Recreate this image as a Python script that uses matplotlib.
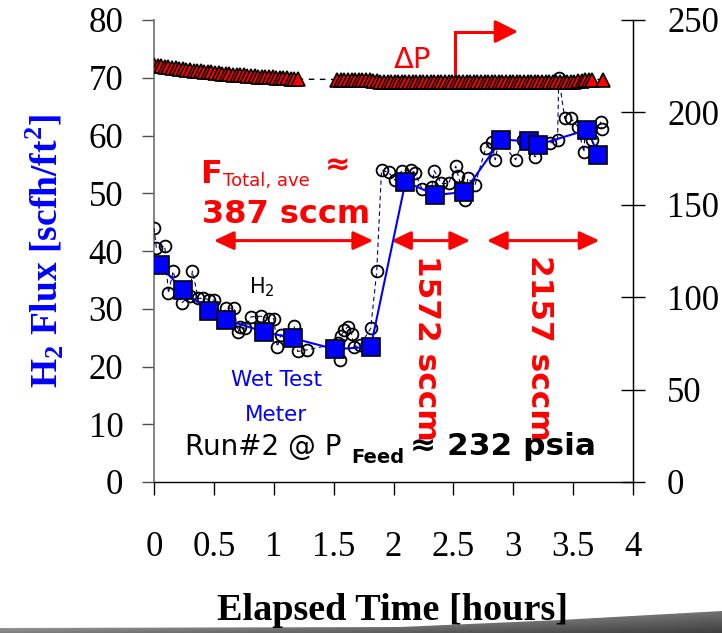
import numpy as np
import matplotlib.pyplot as plt
from matplotlib.patches import Polygon

plt.rcParams['mathtext.fontset'] = 'custom'
plt.rcParams['mathtext.rm'] = 'Liberation Serif'
plt.rcParams['mathtext.bf'] = 'Liberation Serif:bold'
plt.rcParams['mathtext.sf'] = 'DejaVu Sans'

# wet test meter readings (open circles)
wtm_t = [0.00, 0.02, 0.09, 0.12, 0.16, 0.23, 0.30, 0.32, 0.37, 0.41, 0.46, 0.50,
         0.57, 0.60, 0.67, 0.70, 0.72, 0.76, 0.81, 0.89, 0.96, 1.00, 1.03, 1.06,
         1.13, 1.17, 1.20, 1.28, 1.54, 1.55, 1.56, 1.59, 1.62, 1.65, 1.67, 1.72,
         1.81, 1.86, 1.90, 1.96, 2.01, 2.07, 2.15, 2.18, 2.24, 2.32, 2.34, 2.40,
         2.46, 2.52, 2.54, 2.60, 2.62, 2.68, 2.77, 2.82, 2.85, 2.88, 3.02, 3.08,
         3.13, 3.18, 3.31, 3.37, 3.38, 3.43, 3.48, 3.54, 3.59, 3.60, 3.66, 3.73,
         3.74]
wtm_flux = [44.0, 40.5, 40.9, 32.7, 36.5, 31.0, 32.2, 36.5, 31.8, 31.8, 31.6, 31.5,
            28.6, 30.1, 30.1, 25.9, 26.9, 26.6, 28.6, 28.7, 28.3, 28.3, 23.4, 25.5,
            25.2, 27.0, 22.6, 22.9, 24.0, 21.1, 25.2, 26.3, 26.9, 25.7, 23.4, 23.7,
            26.6, 36.5, 54.0, 53.6, 52.3, 53.9, 54.0, 53.5, 50.7, 51.1, 53.9, 51.7,
            51.7, 54.7, 53.0, 48.8, 52.6, 51.4, 57.8, 58.9, 55.8, 59.2, 55.8, 59.2,
            59.6, 56.3, 58.7, 59.2, 70.0, 63.0, 63.0, 61.5, 57.1, 60.6, 59.2, 62.3,
            61.1]

# averaged H2 flux (blue squares)
avg_t = [0.05, 0.24, 0.46, 0.60, 0.92, 1.16, 1.51, 1.81, 2.10, 2.35, 2.59,
         2.90, 3.13, 3.21, 3.62, 3.71]
avg_flux = [37.6, 33.2, 29.6, 28.1, 26.0, 24.9, 23.0, 23.4, 52.0, 49.7, 50.2,
            59.3, 59.0, 58.4, 61.0, 56.6]

# pressure differential, right axis (triangles)
dp_t = [0.00, 0.03, 0.06, 0.09, 0.12, 0.15, 0.18, 0.21, 0.24, 0.27,
        0.30, 0.33, 0.36, 0.39, 0.42, 0.45, 0.48, 0.51, 0.54, 0.57,
        0.60, 0.63, 0.66, 0.69, 0.72, 0.75, 0.78, 0.81, 0.84, 0.87,
        0.90, 0.93, 0.96, 0.99, 1.02, 1.05, 1.08, 1.11, 1.14, 1.17, 1.20,
        1.53, 1.56, 1.59, 1.62, 1.65, 1.68, 1.71, 1.74, 1.77, 1.80, 1.83, 1.86,
        1.89, 1.92, 1.95, 1.98, 2.01, 2.04, 2.07, 2.10, 2.13, 2.16,
        2.19, 2.22, 2.25, 2.28, 2.31, 2.34, 2.37, 2.40, 2.43, 2.46,
        2.49, 2.52, 2.55, 2.58, 2.61, 2.64, 2.67, 2.70, 2.73, 2.76,
        2.79, 2.82, 2.85, 2.88, 2.91, 2.94, 2.97, 3.00, 3.03, 3.06,
        3.09, 3.12, 3.15, 3.18, 3.21, 3.24, 3.27, 3.30, 3.33, 3.36,
        3.39, 3.42, 3.45, 3.48, 3.51, 3.54, 3.57, 3.60, 3.63, 3.66, 3.75]
dp_psi = [225.5, 225.2, 225.0, 224.6, 224.3, 224.0, 223.8, 223.6, 223.3, 223.0,
          222.8, 222.6, 222.5, 222.3, 222.0, 221.8, 221.6, 221.5, 221.3, 221.0,
          220.8, 220.7, 220.5, 220.3, 220.2, 220.0, 219.8, 219.7, 219.5, 219.4,
          219.3, 219.2, 219.0, 218.9, 218.8, 218.7, 218.6, 218.5, 218.3, 218.0, 218.0,
          217.8, 217.8, 217.7, 217.7, 217.6, 217.6, 217.5, 217.5, 217.4, 217.3, 217.1, 216.9,
          216.6, 216.5, 216.4, 216.4, 216.3, 216.3, 216.3, 216.3, 216.3, 216.3,
          216.3, 216.3, 216.2, 216.2, 216.2, 216.2, 216.2, 216.2, 216.2, 216.2,
          216.2, 216.2, 216.2, 216.2, 216.2, 216.2, 216.2, 216.2, 216.2, 216.2,
          216.2, 216.2, 216.2, 216.2, 216.2, 216.2, 216.2, 216.2, 216.2, 216.2,
          216.2, 216.2, 216.2, 216.2, 216.2, 216.2, 216.2, 216.3, 216.3, 216.4,
          216.5, 216.5, 216.6, 216.6, 216.7, 216.8, 217.0, 217.3, 217.5, 217.8, 217.8]

x_ticks = [0, 0.5, 1, 1.5, 2, 2.5, 3, 3.5, 4]
x_ticklabels = ['0', '0.5', '1', '1.5', '2', '2.5', '3', '3.5', '4']
y_ticks = [0, 10, 20, 30, 40, 50, 60, 70, 80]
y2_ticks = [0, 50, 100, 150, 200, 250]

# feed flow periods (double arrows) and their labels
flow_spans = [(0.50, 1.83), (1.98, 2.64), (2.78, 3.72)]
flow_labels = ['1572 sccm', '2157 sccm']

W, H = 722, 633
fig = plt.figure(figsize=(W / 100, H / 100), dpi=100)
ax = fig.add_axes([154 / W, 1 - 482 / H, (633 - 154) / W, (482 - 20) / H])
ax2 = ax.twinx()

serif = 'Liberation Serif'
sans = 'DejaVu Sans'

# data
ax.plot(wtm_t, wtm_flux, ls=(0, (4, 3)), color='#000080', lw=0.8,
        marker='o', ms=8.5, mfc='none', mec='black', mew=1.3, zorder=3)
ax.plot(avg_t, avg_flux, '-', color='#0000FF', lw=1.5,
        marker='s', ms=13, mfc='#0000FF', mec='black', mew=1.2, zorder=4)
ax2.plot(dp_t, dp_psi, ls=(0, (4, 4)), color='black', lw=1.0,
         marker='^', ms=10, mfc='#FF0000', mec='black', mew=1.2)

ax.set_xlim(0, 4)
ax.set_ylim(0, 80)
ax2.set_ylim(0, 250)
ax.set_xticks(x_ticks)
ax.set_xticklabels(x_ticklabels)
ax.set_yticks(y_ticks)
ax2.set_yticks(y2_ticks)

for a in (ax, ax2):
    a.spines['top'].set_visible(False)
ax.spines['left'].set_color('#707070')
ax.spines['left'].set_linewidth(1.2)
ax.spines['bottom'].set_linewidth(1.0)
ax2.spines['right'].set_linewidth(1.0)
ax2.spines['left'].set_visible(False)
ax2.spines['bottom'].set_visible(False)

ax.tick_params(axis='x', direction='out', length=9, width=1, pad=26, labelsize=25)
ax.tick_params(axis='y', direction='out', length=9, width=1, pad=13, labelsize=25,
               color='#505050')
ax2.tick_params(axis='y', direction='inout', length=17, width=1, pad=16, labelsize=25)
for lab in ax.get_xticklabels() + ax.get_yticklabels() + ax2.get_yticklabels():
    lab.set_fontfamily(serif)

fig.text(393 / W, 1 - 611 / H, 'Elapsed Time [hours]', ha='center', va='center',
         fontsize=27.5, fontweight='bold', family=serif)
fig.text(45 / W, 1 - 251 / H, r'H$_\mathbf{2}$ Flux [scfh/ft$^\mathbf{2}$]',
         rotation=90, ha='center', va='center', fontsize=27, fontweight='bold',
         family=serif, color='#0000FF')

red = '#FF0000'
# flow annotations
ax.text(0.387, 51.8, 'F', color=red, fontsize=23, fontweight='bold', family=sans)
ax.text(0.58, 51.3, 'Total, ave', color=red, fontsize=13, family=sans)
ax.text(1.43, 53.3, '\u2248', color=red, fontsize=22, fontweight='bold', family=sans)
ax.text(0.403, 44.85, '387 sccm', color=red, fontsize=23, fontweight='bold', family=sans)
for (x0, x1) in flow_spans:
    ax.annotate('', xy=(x1, 41.8), xytext=(x0, 41.8),
                arrowprops=dict(arrowstyle='<|-|>,head_length=0.6,head_width=0.28',
                                mutation_scale=20, color=red, lw=2.2,
                                shrinkA=0, shrinkB=0))
ax.text(2.277, 23.3, flow_labels[0], rotation=270, ha='center', va='center',
        color=red, fontsize=22.5, fontweight='bold', family=sans)
ax.text(3.218, 23.3, flow_labels[1], rotation=270, ha='center', va='center',
        color=red, fontsize=22.5, fontweight='bold', family=sans)

# delta P marker
ax.text(2.0, 71.7, '\u0394P', color=red, fontsize=21, family=sans)
ax.plot([2.51, 2.51, 2.92], [69.6, 78.0, 78.0], color=red, lw=2.2,
        solid_joinstyle='miter', clip_on=False)
ax.annotate('', xy=(3.04, 78.0), xytext=(2.90, 78.0),
            arrowprops=dict(arrowstyle='-|>,head_length=0.7,head_width=0.35',
                            mutation_scale=20, color=red, lw=2.2,
                            shrinkA=0, shrinkB=0))

ax.text(0.79, 32.7, r'H$_\mathsf{2}$', color='black', fontsize=15, family=sans)
ax.text(1.02, 17.7, 'Wet Test', color='#0000FF', fontsize=15.5, family=sans,
        ha='center', va='center')
ax.text(1.02, 11.6, 'Meter', color='#0000FF', fontsize=15.5, family=sans,
        ha='center', va='center')

ax.text(0.26, 4.68, 'Run#2 @ P', color='black', fontsize=20, family=sans)
ax.text(1.647, 3.29, 'Feed', color='black', fontsize=14, fontweight='bold', family=sans)
ax.text(2.134, 4.68, '\u2248 232 psia', color='black', fontsize=22.5,
        fontweight='bold', family=sans)

# slide footer shading
deco = fig.add_axes([0, 0, 1, 24 / H])
deco.set_axis_off()
deco.set_xlim(0, W)
deco.set_ylim(0, 24)
shade = np.outer(np.linspace(0.45, 0.85, 32), np.ones(64)) * \
    np.outer(np.ones(32), np.linspace(1.1, 0.55, 64))
img = deco.imshow(np.clip(shade, 0, 1), cmap='gray', vmin=0, vmax=1,
                  extent=(0, W, 0, 24), aspect='auto', origin='lower')
clip = Polygon([(0, 0), (0, 5), (400, 6), (560, 13), (W, 22), (W, 0)],
               closed=True, transform=deco.transData, fc='none', ec='none')
deco.add_patch(clip)
img.set_clip_path(clip)

fig.savefig('out.png', dpi=100)
